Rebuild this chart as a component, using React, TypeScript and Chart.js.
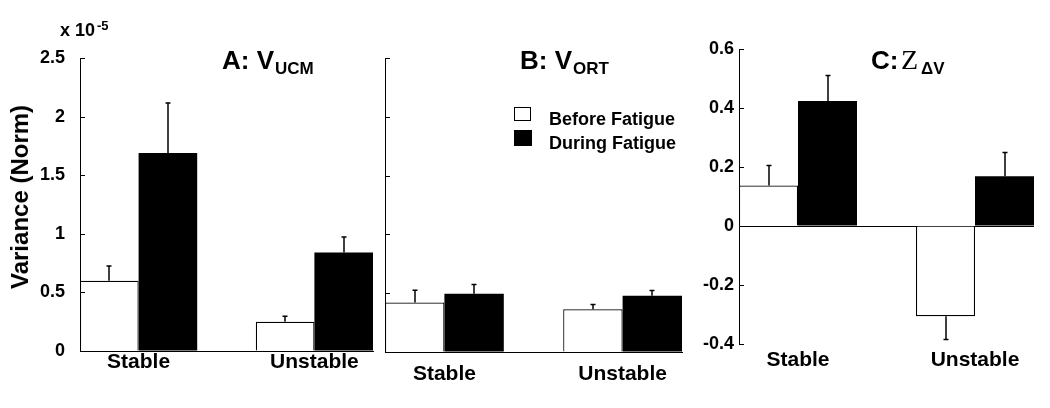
import React, { useEffect, useRef } from "react";
import { Chart, registerables } from "chart.js";

Chart.register(...registerables);

// ---------- data ----------
const categories = ["Stable", "Unstable"];
const seriesNames = ["Before Fatigue", "During Fatigue"];

// Panel A: V_UCM (x 10^-5)
const ucmBefore = [0.6, 0.25];
const ucmBeforeErr = [0.125, 0.046];
const ucmDuring = [1.69, 0.84];
const ucmDuringErr = [0.425, 0.133];

// Panel B: V_ORT (x 10^-5)
const ortBefore = [0.42, 0.363];
const ortBeforeErr = [0.105, 0.04];
const ortDuring = [0.495, 0.478];
const ortDuringErr = [0.08, 0.046];

// Panel C: Z_dV
const zBefore = [0.137, -0.306];
const zBeforeErr = [0.068, 0.079];
const zDuring = [0.424, 0.169];
const zDuringErr = [0.086, 0.08];

const varianceTicks = [0, 0.5, 1, 1.5, 2, 2.5];
const zTicks = [-0.4, -0.2, 0, 0.2, 0.4, 0.6];

// ---------- styling ----------
const SANS = "'Liberation Sans', Arial, Helvetica, sans-serif";
const SERIF = "'Liberation Serif', 'Times New Roman', serif";

const inwardTicks = {
  id: "inwardTicks",
  afterDraw(chart: any) {
    const ys = chart.scales.y;
    const { ctx, chartArea } = chart;
    ctx.save();
    ctx.strokeStyle = "#000";
    ctx.lineWidth = 1;
    ys.ticks.forEach((t: any) => {
      const py = Math.round(ys.getPixelForValue(t.value)) + 0.5;
      ctx.beginPath();
      ctx.moveTo(chartArea.left, py);
      ctx.lineTo(chartArea.left + 5, py);
      ctx.stroke();
    });
    ctx.restore();
  },
};

const errorBars = {
  id: "errorBars",
  afterDatasetsDraw(chart: any) {
    const ys = chart.scales.y;
    const ctx = chart.ctx;
    ctx.save();
    ctx.strokeStyle = "#000";
    ctx.lineWidth = 1.5;
    chart.data.datasets.forEach((ds: any, d: number) => {
      const meta = chart.getDatasetMeta(d);
      meta.data.forEach((bar: any, i: number) => {
        const v = ds.data[i].y;
        const e = ds.errors[i];
        const end = v >= 0 ? v + e : v - e;
        const x = Math.round(bar.x);
        const y0 = bar.y;
        const y1 = ys.getPixelForValue(end);
        ctx.beginPath();
        ctx.moveTo(x, y0);
        ctx.lineTo(x, y1);
        ctx.moveTo(x - 2.5, y1);
        ctx.lineTo(x + 2.5, y1);
        ctx.stroke();
      });
    });
    ctx.restore();
  },
};

type Spec = {
  left: number;
  w: number;
  before: number[];
  beforeErr: number[];
  during: number[];
  duringErr: number[];
  yTicks: number[];
  showYLabels: boolean;
  padRight: number;
  padTop: number;
  yWidth: number;
  xHeight: number;
  yPad: number;
  xPad: number;
  zeroLine: boolean;
  xBorder: boolean;
};

function makeConfig(s: Spec): any {
  return {
    type: "bar",
    data: {
      datasets: [
        {
          label: seriesNames[0],
          data: s.before.map((y, i) => ({ x: i, y })),
          errors: s.beforeErr,
          backgroundColor: "#ffffff",
          borderColor: "#000000",
          borderWidth: 1.2,
        },
        {
          label: seriesNames[1],
          data: s.during.map((y, i) => ({ x: i, y })),
          errors: s.duringErr,
          backgroundColor: "#000000",
          borderColor: "#000000",
          borderWidth: 0,
        },
      ],
    },
    options: {
      responsive: false,
      maintainAspectRatio: false,
      animation: false,
      events: [],
      categoryPercentage: 2 / 3,
      barPercentage: 1,
      layout: { padding: { left: 0, right: s.padRight, top: s.padTop, bottom: 0 } },
      plugins: { legend: { display: false }, tooltip: { enabled: false }, title: { display: false } },
      scales: {
        x: {
          type: "linear",
          min: -1 / 3,
          max: categories.length - 1 + 1 / 3,
          offset: false,
          afterBuildTicks: (sc: any) => {
            sc.ticks = categories.map((_, i) => ({ value: i }));
          },
          afterFit: (sc: any) => {
            sc.height = s.xHeight;
          },
          ticks: {
            callback: (v: any) => categories[Math.round(Number(v))] ?? "",
            font: { family: SANS, size: 21, weight: "bold", lineHeight: 1 },
            color: "#000",
            padding: s.xPad,
            maxRotation: 0,
            minRotation: 0,
            autoSkip: false,
          },
          grid: { display: true, drawOnChartArea: false, drawTicks: false, offset: false },
          border: { display: s.xBorder, color: "#000", width: 1 },
        },
        y: {
          type: "linear",
          min: s.yTicks[0],
          max: s.yTicks[s.yTicks.length - 1],
          afterBuildTicks: (sc: any) => {
            sc.ticks = s.yTicks.map((v) => ({ value: v }));
          },
          afterFit: (sc: any) => {
            sc.width = s.yWidth;
          },
          ticks: {
            display: s.showYLabels,
            callback: (v: any) => String(v),
            font: { family: SANS, size: 18, weight: "bold" },
            color: "#000",
            padding: s.yPad,
          },
          grid: s.zeroLine
            ? {
                display: true,
                drawOnChartArea: true,
                drawTicks: false,
                lineWidth: 1,
                color: (c: any) => (c.tick && c.tick.value === 0 ? "#000" : "rgba(0,0,0,0)"),
              }
            : { display: true, drawOnChartArea: false, drawTicks: false },
          border: { display: true, color: "#000", width: 1 },
        },
      },
    },
    plugins: [errorBars, inwardTicks],
  };
}

const specs: Spec[] = [
  {
    left: 0, w: 390,
    before: ucmBefore, beforeErr: ucmBeforeErr, during: ucmDuring, duringErr: ucmDuringErr,
    yTicks: varianceTicks, showYLabels: true,
    padRight: 17, padTop: 58, yWidth: 80, xHeight: 57, yPad: 15, xPad: 1,
    zeroLine: false, xBorder: true,
  },
  {
    left: 360, w: 340,
    before: ortBefore, beforeErr: ortBeforeErr, during: ortDuring, duringErr: ortDuringErr,
    yTicks: varianceTicks, showYLabels: false,
    padRight: 18, padTop: 58, yWidth: 25, xHeight: 56, yPad: 4, xPad: 12,
    zeroLine: false, xBorder: true,
  },
  {
    left: 690, w: 360,
    before: zBefore, beforeErr: zBeforeErr, during: zDuring, duringErr: zDuringErr,
    yTicks: zTicks, showYLabels: true,
    padRight: 16, padTop: 49, yWidth: 49, xHeight: 64, yPad: 5, xPad: 6,
    zeroLine: true, xBorder: false,
  },
];

function Panel({ spec }: { spec: Spec }) {
  const ref = useRef<HTMLCanvasElement>(null);
  useEffect(() => {
    if (!ref.current) return;
    const chart = new Chart(ref.current, makeConfig(spec));
    return () => chart.destroy();
  }, []);
  return (
    <canvas
      ref={ref}
      width={spec.w}
      height={408}
      style={{ position: "absolute", left: spec.left, top: 0, width: spec.w, height: 408 }}
    />
  );
}

function T({ x, y, size, children, family = SANS, weight = "bold" }: any) {
  return (
    <div
      style={{
        position: "absolute",
        left: x,
        top: y,
        fontFamily: family,
        fontSize: size,
        fontWeight: weight,
        lineHeight: 1,
        whiteSpace: "nowrap",
        color: "#000",
      }}
    >
      {children}
    </div>
  );
}

export default function App() {
  return (
    <div
      style={{
        position: "absolute",
        left: 0,
        top: 0,
        width: 1050,
        height: 408,
        background: "#fff",
        overflow: "hidden",
      }}
    >
      {specs.map((s, i) => (
        <Panel key={i} spec={s} />
      ))}

      {/* exponent */}
      <T x={60} y={21} size={18}>x 10</T>
      <T x={97} y={19.3} size={13}>-5</T>

      {/* y-axis label */}
      <div
        style={{
          position: "absolute",
          left: 20,
          top: 196.5,
          transform: "translate(-50%, -50%) rotate(-90deg)",
          fontFamily: SANS,
          fontSize: 24,
          fontWeight: "bold",
          lineHeight: 1,
          whiteSpace: "nowrap",
        }}
      >
        Variance (Norm)
      </div>

      {/* panel titles */}
      <T x={222} y={46.5} size={26}>A: V</T>
      <T x={275} y={59.5} size={17}>UCM</T>
      <T x={520} y={46.5} size={26}>B: V</T>
      <T x={573} y={59.5} size={17}>ORT</T>
      <T x={871} y={46.5} size={26}>C:</T>
      <T x={901} y={45.5} size={28} family={SERIF} weight="normal">Z</T>
      <T x={921} y={59.5} size={17}>ΔV</T>

      {/* legend */}
      <div
        style={{
          position: "absolute",
          left: 514,
          top: 107,
          width: 15,
          height: 12,
          border: "1.5px solid #000",
          background: "#fff",
        }}
      />
      <div style={{ position: "absolute", left: 514, top: 130, width: 18, height: 15.5, background: "#000" }} />
      <T x={549} y={110.2} size={18}>{seriesNames[0]}</T>
      <T x={549} y={133.7} size={18}>{seriesNames[1]}</T>
    </div>
  );
}
